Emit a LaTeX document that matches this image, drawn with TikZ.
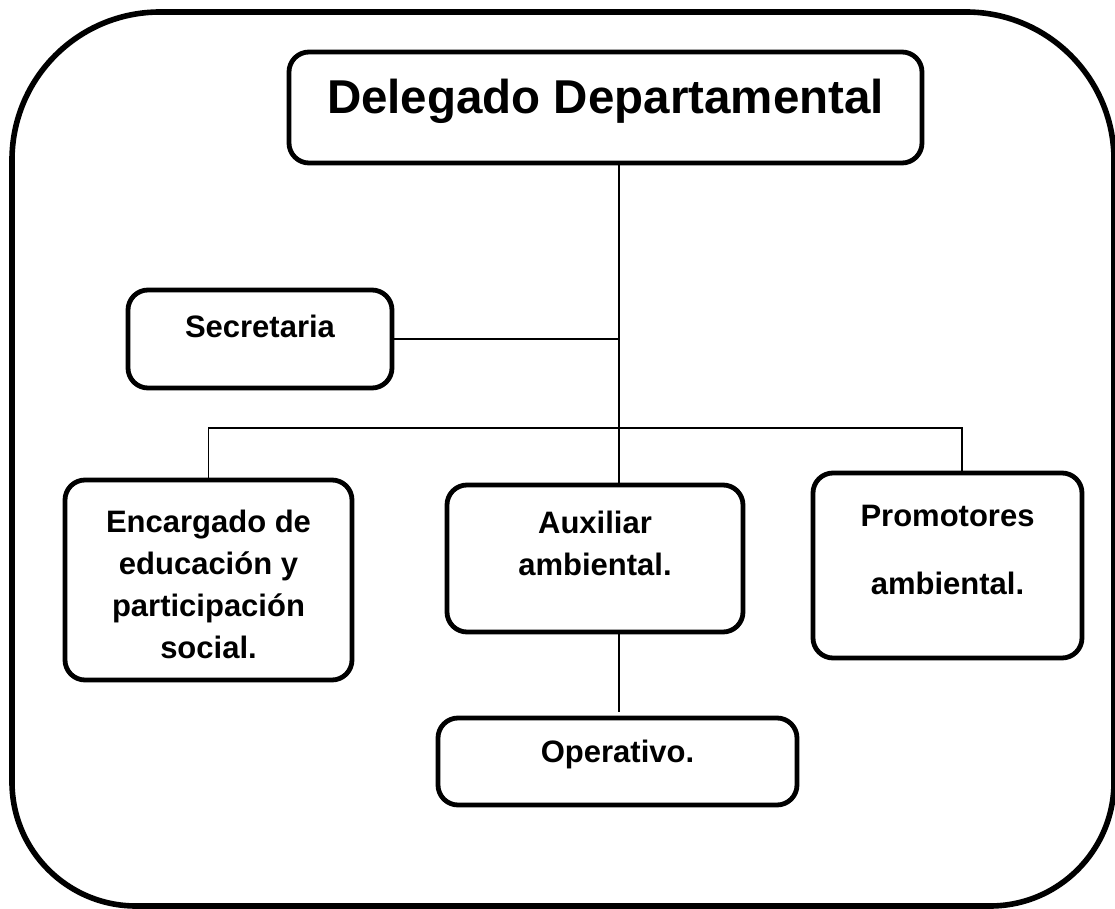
\documentclass[tikz,border=0pt]{standalone}
\usepackage{fontspec}
\setmainfont{Liberation Sans}
\usepackage{tikz}
\usetikzlibrary{calc}
\newcommand{\unitfont}{\fontsize{15.5}{21}\selectfont\bfseries}
\newcommand{\headfont}{\fontsize{23.75}{28}\selectfont\bfseries}
\tikzset{
	org chart/.style={
		x=.5pt, y=-.5pt,
		wire/.style={line width=.8pt},
		frame/.style={line width=2.8pt}
		},
	unit/.style={draw, line width=2.4pt, rounded corners=10pt,
		inner sep=0pt, outer sep=0pt,
		prefix after command={\pgfextra{\let\fixname\tikzlastnode}}},
	unit size/.style 2 args={minimum width=#1*.5pt, minimum height=#2*.5pt},
	unit label/.style={anchor=north, align=center, inner sep=0pt, font=\unitfont},
	unit name/.style 2 args={append after command={\pgfextra{\node[unit label] (\fixname_name) at ([yshift=-#2]\fixname.north) {#1};}}}
}

\begin{document}
\begin{tikzpicture}[org chart]
    \useasboundingbox (0,0) rectangle (1115,909);
    \draw[frame] (12,450) [rounded corners=74pt] -- (12,12) -- (1114,12) -- (1114,450)
      [rounded corners=62pt] -- (1114,906) -- (12,906) -- cycle;
    \node[unit, unit size={633}{111}, unit name={\headfont Delegado Departamental}{13.5pt}] (dele) at (605.5,107.5) {};
    \node[unit, unit size={264}{98}, unit name={Secretaria}{12.5pt}] (sec) at (260,339) {};
    \node[unit, unit size={287}{200}, unit name={Encargado de\\educación y\\participación\\social.}{15pt}] (enc) at (208.5,580) {};
    \node[unit, unit size={296}{147}, unit name={Auxiliar\\ambiental.}{13pt}] (aux) at (595,558.5) {};
    \node[unit, unit size={269}{185}, unit name={Promotores\\[13pt]ambiental.}{16pt}] (prom) at (947.5,565.5) {};
    \node[unit, unit size={359}{87}, unit name={Operativo.}{11pt}] (oper) at (617.5,761.5) {};
    \coordinate (trunk) at (619,428);
    \coordinate (bar end) at (962,428);
    \draw[wire] (dele.south -| trunk) -- (aux.north -| trunk);
    \draw[wire] (sec.east) -- (sec.east -| trunk);
    \draw[wire] (enc.north) |- (bar end) -- (bar end |- prom.north);
    \draw[wire, shorten >=3pt] (aux.south -| trunk) -- (oper.north -| trunk);
\end{tikzpicture}
\end{document}
